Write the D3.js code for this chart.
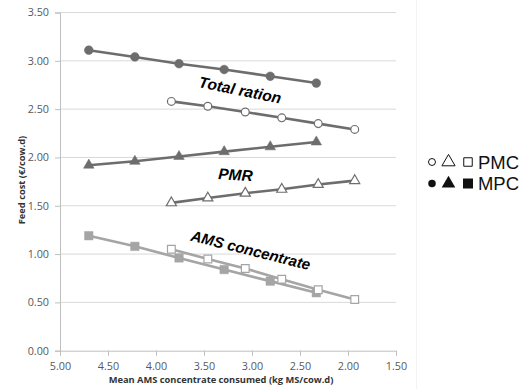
<!DOCTYPE html>
<html><head><meta charset="utf-8">
<script src="https://cdn.jsdelivr.net/npm/d3@7"></script>
<style>body{margin:0;background:#fff}svg{display:block}</style>
</head><body><svg id="c" width="532" height="389"></svg>
<script>
// x positions (kg MS/cow.d)
const xMPC = [4.70, 4.22, 3.76, 3.29, 2.81, 2.33];
const xPMC = [3.84, 3.46, 3.07, 2.69, 2.31, 1.93];
// feed cost values (€/cow.d)
const totalMPC = [3.11, 3.04, 2.97, 2.91, 2.84, 2.77];
const totalPMC = [2.58, 2.53, 2.47, 2.41, 2.35, 2.29];
const pmrMPC = [1.92, 1.96, 2.01, 2.06, 2.11, 2.16];
const pmrPMC = [1.53, 1.58, 1.63, 1.67, 1.72, 1.76];
const amsMPC = [1.19, 1.08, 0.96, 0.84, 0.72, 0.60];
const amsPMC = [1.05, 0.95, 0.85, 0.74, 0.63, 0.53];
const xTicks = [5.0, 4.5, 4.0, 3.5, 3.0, 2.5, 2.0, 1.5];
const yTicks = [0, 0.5, 1.0, 1.5, 2.0, 2.5, 3.0, 3.5];
const annotations = ["Total ration", "PMR", "AMS concentrate"];
const legendLabels = ["PMC", "MPC"];

const svg = d3.select("#c");
const x = d3.scaleLinear().domain([5, 1.5]).range([60, 396]);
const y = d3.scaleLinear().domain([0, 3.5]).range([350.7, 12.5]);
const dark = "#6d6d6d", light = "#a5a5a5";
const tickFont = "'Open Sans', sans-serif";

// gridlines
svg.append("g").selectAll("line").data(yTicks.slice(1)).join("line")
  .attr("x1", x(5)).attr("x2", x(1.5)).attr("y1", d => y(d)).attr("y2", d => y(d))
  .attr("stroke", "#d9d9d9").attr("stroke-width", 1);
// faint chart border
svg.append("line").attr("x1", 416.5).attr("x2", 416.5).attr("y1", 0).attr("y2", 389)
  .attr("stroke", "#f3f3f3");

// axes
const gy = svg.append("g").attr("transform", `translate(${x(5)},0)`)
  .call(d3.axisLeft(y).tickValues(yTicks).tickFormat(d3.format(".2f")).tickSizeOuter(0).tickSize(5).tickPadding(6));
const gx = svg.append("g").attr("transform", `translate(0,${y(0)})`)
  .call(d3.axisBottom(x).tickValues(xTicks).tickFormat(d3.format(".2f")).tickSizeOuter(0).tickSize(5).tickPadding(7));
[gx, gy].forEach(g => {
  g.select(".domain").attr("stroke", "#bfbfbf");
  g.selectAll(".tick line").attr("stroke", "#bfbfbf");
  g.selectAll(".tick text").attr("fill", "#595959").style("font-family", tickFont).style("font-size", "10.8px");
});

// axis titles
svg.append("text").attr("x", 221).attr("y", 383).attr("text-anchor", "middle")
  .style("font-family", tickFont).style("font-size", "9.3px").style("font-weight", "bold").attr("fill", "#333")
  .text("Mean AMS concentrate consumed (kg MS/cow.d)");
svg.append("text").attr("transform", "translate(25,180) rotate(-90)").attr("text-anchor", "middle")
  .style("font-family", tickFont).style("font-size", "9.3px").style("font-weight", "bold").attr("fill", "#333")
  .text("Feed cost (€/cow.d)");

const line = (xs) => d3.line().x((d, i) => x(xs[i])).y(d => y(d));
const series = [
  {xs: xMPC, v: amsMPC, col: light, sym: d3.symbolSquare, size: 72, filled: true},
  {xs: xPMC, v: amsPMC, col: light, sym: d3.symbolSquare, size: 60, filled: false},
  {xs: xMPC, v: totalMPC, col: dark, sym: d3.symbolCircle, size: 60, filled: true},
  {xs: xPMC, v: totalPMC, col: dark, sym: d3.symbolCircle, size: 48, filled: false},
  {xs: xMPC, v: pmrMPC, col: dark, sym: d3.symbolTriangle, size: 48, filled: true},
  {xs: xPMC, v: pmrPMC, col: dark, sym: d3.symbolTriangle, size: 44, filled: false},
];
series.forEach(s => {
  svg.append("path").attr("d", line(s.xs)(s.v)).attr("fill", "none")
    .attr("stroke", s.col).attr("stroke-width", 2.6);
});
series.forEach(s => {
  svg.append("g").selectAll("path").data(s.v).join("path")
    .attr("transform", (d, i) => `translate(${x(s.xs[i])},${y(d)})`)
    .attr("d", d3.symbol().type(s.sym).size(s.size))
    .attr("fill", s.filled ? s.col : "#fff")
    .attr("stroke", s.col).attr("stroke-width", s.filled ? 0.5 : 1.2);
});

// annotations
const annFont = "'Liberation Sans', Arial, sans-serif";
const ann = [
  {t: annotations[0], x: 198, y: 87, r: 11.5, fs: 15.5},
  {t: annotations[1], x: 218, y: 179, r: 3.5, fs: 15.5},
  {t: annotations[2], x: 190, y: 240.5, r: 14, fs: 15},
];
ann.forEach(a => {
  svg.append("text").attr("transform", `translate(${a.x},${a.y}) rotate(${a.r})`)
    .style("font-family", annFont).style("font-size", a.fs + "px").style("font-weight", "bold")
    .style("font-style", "italic").attr("fill", "#000").text(a.t);
});

// legend
const lg = svg.append("g");
const rows = [{yy: 162, filled: false, label: legendLabels[0]}, {yy: 183.5, filled: true, label: legendLabels[1]}];
rows.forEach(r => {
  const syms = [
    {t: d3.symbolCircle, cx: 432, size: r.filled ? 44 : 38},
    {t: d3.symbolTriangle, cx: 448.5, size: r.filled ? 80 : 75},
    {t: d3.symbolSquare, cx: 468, size: r.filled ? 100 : 72},
  ];
  syms.forEach(s => {
    lg.append("path").attr("transform", `translate(${s.cx},${r.yy})`)
      .attr("d", d3.symbol().type(s.t).size(s.size))
      .attr("fill", r.filled ? "#111" : "#fff").attr("stroke", "#111").attr("stroke-width", r.filled ? 0 : 1);
  });
  lg.append("text").attr("x", 478).attr("y", r.yy + 6.5).attr("textLength", 41).attr("lengthAdjust", "spacingAndGlyphs")
    .style("font-family", annFont).style("font-size", "17.5px").attr("fill", "#111").text(r.label);
});
</script></body></html>
